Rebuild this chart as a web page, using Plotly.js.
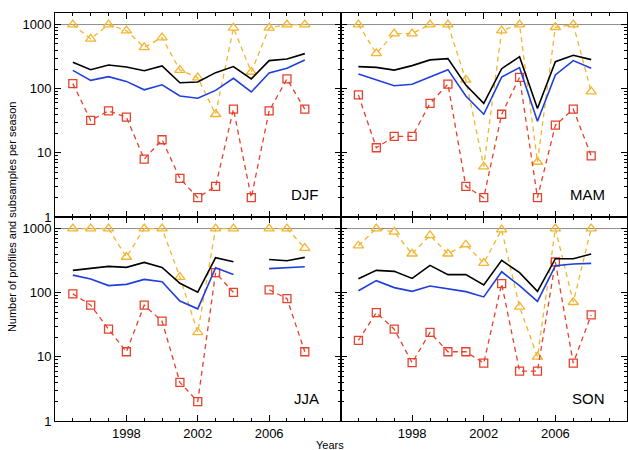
<!DOCTYPE html>
<html>
<head>
<meta charset="utf-8">
<script src="https://cdn.plot.ly/plotly-3.0.1.min.js"></script>
<style>html,body{margin:0;padding:0;background:#fff;}#chart{width:628px;height:450px;}</style>
</head>
<body>
<div id="chart"></div>
<script>
// ---- data ----
const years = [1995,1996,1997,1998,1999,2000,2001,2002,2003,2004,2005,2006,2007,2008];
const seasons = ["DJF","MAM","JJA","SON"];

// black solid line
const djfBlack = [258,198,234,218,191,226,124,127,178,221,142,274,291,352];
const mamBlack = [221,215,195,229,281,294,114,59,205,316,49,264,332,284];
const jjaBlack = [223,242,257,248,297,248,140,102,351,304,null,330,315,355];
const sonBlack = [165,223,215,167,267,191,191,132,319,205,105,339,339,400];

// blue solid line
const djfBlue = [193,135,154,130,96,115,77,71,94,145,89,176,208,281];
const mamBlue = [169,138,111,117,154,198,77,40,152,213,31,164,274,208];
const jjaBlue = [188,163,129,135,161,148,74,56,245,193,null,237,248,254];
const sonBlue = [107,154,120,105,127,114,104,86,212,129,73,264,280,286];

// orange dashed, triangles
const djfOrange = [1000,597,1000,806,442,626,195,149,40,887,182,887,1000,1000];
const mamOrange = [1000,356,723,723,1000,1000,137,6.1,806,1000,7.2,908,1000,90];
const jjaOrange = [1000,1000,1000,360,1000,1000,175,24,1000,1000,null,1000,1000,497];
const sonOrange = [540,1000,887,405,783,405,560,290,960,60,10,1000,71,1000];

// red dashed, squares
const djfRed = [120,32,45,36,8,16,4,2,3,48,2,45,142,48];
const mamRed = [80,12,18,18,59,118,3,2,40,150,2,27,48,9];
const jjaRed = [96,64,27,12,64,36,4,2,205,101,null,111,81,12];
const sonRed = [18,49,27,8.1,24,12,12,8,138,6,6,301,8,45];

const xTickVals = [1994,1998,2002,2006,2010];
const xTickText = ["","1998","2002","2006",""];
const yTickVals = [1,10,100,1000];
const yTickText = ["1","10","100","1000"];
const yMinorVals = [2,3,4,5,6,7,8,9,20,30,40,50,60,70,80,90,200,300,400,500,600,700,800,900];

// ---- styles ----
const cBlack = "#000000", cBlue = "#1f3fdc", cOrange = "#f2b530", cRed = "#e5422c";
const FONT = "Liberation Sans, Arial, Helvetica, sans-serif";

const blackS = [djfBlack, mamBlack, jjaBlack, sonBlack];
const blueS = [djfBlue, mamBlue, jjaBlue, sonBlue];
const orangeS = [djfOrange, mamOrange, jjaOrange, sonOrange];
const redS = [djfRed, mamRed, jjaRed, sonRed];

const traces = [];
for (let i = 0; i < 4; i++) {
  const xa = i === 0 ? "x" : "x" + (i + 1);
  const ya = i === 0 ? "y" : "y" + (i + 1);
  traces.push({x: years, y: orangeS[i], xaxis: xa, yaxis: ya, type: "scatter", mode: "lines+markers",
    line: {color: cOrange, width: 1.3, dash: "5px,4px"},
    marker: {symbol: "triangle-up-open", size: 9, color: cOrange, line: {width: 1.3}}});
  traces.push({x: years, y: redS[i], xaxis: xa, yaxis: ya, type: "scatter", mode: "lines+markers",
    line: {color: cRed, width: 1.3, dash: "5px,4px"},
    marker: {symbol: "square-open", size: 8, color: cRed, line: {width: 1.3}}});
  traces.push({x: years, y: blackS[i], xaxis: xa, yaxis: ya, type: "scatter", mode: "lines",
    line: {color: cBlack, width: 1.6}});
  traces.push({x: years, y: blueS[i], xaxis: xa, yaxis: ya, type: "scatter", mode: "lines",
    line: {color: cBlue, width: 1.6}});
}

const splitX = (341 - 55) / 573;
const doms = [
  {x: [0, splitX], y: [0.5, 1]},
  {x: [splitX, 1], y: [0.5, 1]},
  {x: [0, splitX], y: [0, 0.5]},
  {x: [splitX, 1], y: [0, 0.5]}
];

const layout = {
  width: 628, height: 450,
  margin: {l: 55, r: 1, t: 13, b: 29},
  paper_bgcolor: "#fff", plot_bgcolor: "#fff",
  showlegend: false,
  font: {family: FONT, size: 13, color: "#000"},
  shapes: [], annotations: []
};

for (let i = 0; i < 4; i++) {
  const sfx = i === 0 ? "" : String(i + 1);
  const bottom = i >= 2, left = (i % 2) === 0;
  layout["xaxis" + sfx] = {
    domain: doms[i].x, anchor: "y" + sfx, range: [1994, 2010],
    tickmode: "array", tickvals: xTickVals, ticktext: xTickText,
    showticklabels: bottom, ticks: "inside", ticklen: 6, tickwidth: 1, tickcolor: "#000",
    minor: {tickmode: "linear", tick0: 1994, dtick: 1, ticks: "inside", ticklen: 3, tickcolor: "#000", showgrid: false},
    showline: true, linecolor: "#000", linewidth: 1, mirror: "allticks",
    showgrid: false, zeroline: false, tickfont: {size: 13, family: FONT}
  };
  layout["yaxis" + sfx] = {
    domain: doms[i].y, anchor: "x" + sfx, type: "log", range: [0, 3.18],
    tickmode: "array", tickvals: yTickVals, ticktext: yTickText,
    showticklabels: left, ticks: "inside", ticklen: 6, tickwidth: 1, tickcolor: "#000",
    ticklabelshift: bottom ? -2.5 : 2.5,
    minor: {tickmode: "array", tickvals: yMinorVals, ticks: "inside", ticklen: 3, tickcolor: "#000", showgrid: false},
    showline: true, linecolor: "#000", linewidth: 1, mirror: "allticks",
    showgrid: false, zeroline: false, tickfont: {size: 13, family: FONT}
  };
  layout.shapes.push({type: "line", xref: "x" + sfx + " domain", yref: "y" + sfx,
    x0: 0, x1: 1, y0: 1000, y1: 1000, line: {color: "#8c8c8c", width: 1}, layer: "below"});
  layout.annotations.push({text: seasons[i], xref: "x" + sfx + " domain", yref: "y" + sfx + " domain",
    x: 0.93, y: 0.11, xanchor: "right", yanchor: "middle", showarrow: false,
    font: {size: 15, family: FONT, color: "#000"}});
}

layout.annotations.push({text: "Number of profiles and subsamples per season", xref: "paper", yref: "paper",
  x: -0.075, y: 0.5, xanchor: "center", yanchor: "middle", textangle: -90, showarrow: false,
  font: {size: 11, family: FONT, color: "#000"}});
layout.annotations.push({text: "Years", xref: "paper", yref: "paper",
  x: (330 - 55) / 573, y: -0.06, xanchor: "center", yanchor: "middle", showarrow: false,
  font: {size: 11, family: FONT, color: "#000"}});

Plotly.newPlot("chart", traces, layout, {staticPlot: true, displayModeBar: false});
</script>
</body>
</html>
